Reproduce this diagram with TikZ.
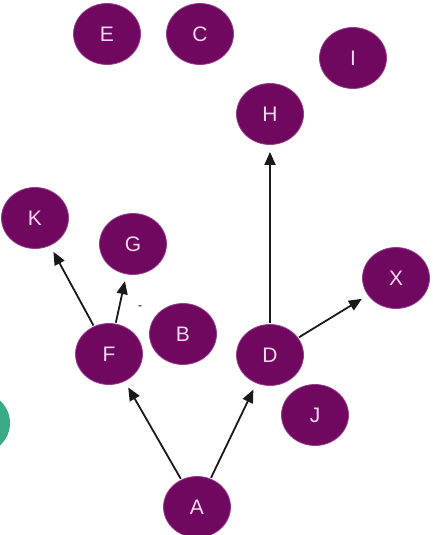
\documentclass[tikz,border=0pt]{standalone}
\usepackage{fontspec}
\setsansfont{Liberation Sans}
\usepackage{xcolor}
\usetikzlibrary{arrows.meta, shapes.geometric}
\definecolor{plum}{RGB}{112,8,96}
\definecolor{plumedge}{RGB}{150,60,140}
\definecolor{vertexlabel}{RGB}{245,215,240}
\definecolor{teal}{RGB}{58,170,135}
\tikzset{
  vertex/.style={ellipse, fill=plum, draw=plumedge, line width=0.8pt,
    minimum width=67pt, minimum height=61pt, inner sep=0pt,
    text=vertexlabel, font=\fontsize{21}{23}\selectfont\sffamily},
  edge/.style={line width=1.8pt, black!90,
    -{Triangle[length=13pt, width=11pt]}, shorten >=7pt, shorten <=1pt}
}

\begin{document}
\begin{tikzpicture}[x=1pt, y=-1pt]
  \useasboundingbox (0,0) rectangle (432,535);
  % ================================================================
  % vertices
  % ================================================================
  \foreach \n/\px/\py in {E/107/34, C/200/34, I/353/58, H/270/114,
      K/35/218, G/133/244, X/396/278, B/183/334, F/109/354,
      D/270/355, J/315/415, A/197/507} {
    \node[vertex] (\n) at (\px,\py) {\n};
  }
  % half-hidden vertex at the left border
  \begin{scope}
    \clip (0,0) rectangle (432,535);
    \node[ellipse, fill=teal, minimum width=64pt, minimum height=62pt] (edge-left) at (-22,423) {};
  \end{scope}
  % stray mark next to G
  \node[font=\fontsize{12}{12}\selectfont\sffamily] (mark) at (140,308) {-};
  % ================================================================
  % arcs
  % ================================================================
  \draw[edge] (A) -- (F);
  \draw[edge] (A) -- (D);
  \draw[edge] (F) -- (K);
  \draw[edge] (F) -- (G);
  \draw[edge] (D) -- (H);
  \draw[edge] (D) -- (X);
\end{tikzpicture}
\end{document}
